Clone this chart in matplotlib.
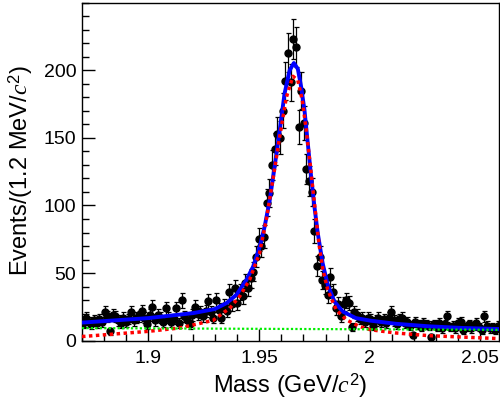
import numpy as np
import matplotlib
matplotlib.use("Agg")
import matplotlib.pyplot as plt
from matplotlib.ticker import MultipleLocator

plt.rcParams['font.family'] = ['Liberation Sans', 'DejaVu Sans']
plt.rcParams['mathtext.fontset'] = 'custom'
plt.rcParams['mathtext.it'] = 'Liberation Serif:italic'
plt.rcParams['mathtext.rm'] = 'Liberation Sans'

# ---- data: 1.2 MeV bins starting at 1.870 GeV ----
bin_start = 1.870
bin_width = 0.0012
counts = [
    13, 17, 14, 12, 15, 13, 16, 14, 21, 18,
    7, 19, 18, 15, 13, 17, 14, 16, 21, 15,
    17, 18, 22, 17, 12, 19, 25, 15, 19, 17,
    14, 24, 17, 14, 16, 24, 13, 30, 18, 15,
    12, 19, 25, 20, 21, 18, 22, 29, 21, 17,
    30, 23, 17, 26, 22, 36, 27, 39, 28, 36,
    33, 43, 39, 46, 51, 62, 75, 70, 77, 102,
    109, 130, 142, 153, 150, 170, 192, 213, 191, 223,
    217, 158, 185, 161, 127, 118, 110, 81, 55, 62,
    45, 41, 34, 47, 36, 24, 27, 18, 27, 30,
    28, 10, 21, 19, 16, 17, 14, 17, 16, 11,
    15, 17, 14, 16, 13, 17, 21, 15, 12, 16,
    17, 13, 14, 11, 4, 14, 12, 10, 13, 12,
    11, 3, 12, 10, 13, 9, 12, 18, 10, 11,
    9, 13, 14, 8, 10, 12, 9, 11, 13, 10,
    8, 18, 11, 9, 10, 8, 11,
]

# ---- fit curves (values at these masses) ----
total_mass = [1.870, 1.8714, 1.900, 1.9203, 1.930, 1.9353, 1.9398, 1.9443, 1.9473,
              1.9503, 1.9525, 1.9548, 1.957, 1.9593, 1.9615, 1.9638, 1.9657,
              1.9675, 1.969, 1.9705, 1.972, 1.9735, 1.975, 1.9765, 1.9787,
              1.981, 1.984, 1.9877, 1.9937, 2.0002, 2.0117, 2.0267, 2.0417, 2.0585]
total_fit = [13.4, 13.5, 16.7, 20.4, 23.4, 27.8, 34.0, 45.0, 54.8,
             69.6, 84.4, 104.0, 128.6, 155.7, 182.8, 200.0, 205.4,
             201.0, 187.7, 170.5, 145.9, 121.3, 99.0, 79.5, 57.3,
             41.3, 29.0, 21.6, 16.7, 14.8, 12.5, 10.6, 9.4, 8.6]

signal_mass = [1.870, 1.8714, 1.900, 1.9142, 1.9292, 1.9367, 1.9412, 1.9457, 1.9502,
               1.9532, 1.9562, 1.9593, 1.9623, 1.9653, 1.9675, 1.9695, 1.9713,
               1.9732, 1.975, 1.977, 1.9788, 1.981, 1.9848, 1.9893, 1.9952,
               2.0002, 2.0117, 2.0267, 2.0585]
signal_fit = [3.1, 3.2, 6.9, 9.4, 15.0, 24.0, 32.7, 45.0, 64.7,
              89.0, 118.8, 150.8, 180.0, 195.6, 192.6, 177.9, 155.7,
              128.6, 101.6, 72.0, 52.4, 37.6, 22.9, 15.5, 10.6,
              8.1, 5.7, 3.7, 1.5]

bkg_mass = [1.870, 2.0585]
bkg_fit = [9.3, 8.0]

x_ticks = [1.90, 1.95, 2.00, 2.05]
x_ticklabels = ['1.9', '1.95', '2', '2.05']
y_ticks = [0, 50, 100, 150, 200]

counts = np.array(counts, dtype=float)
centers = bin_start + bin_width * (np.arange(len(counts)) + 0.5)
errors = np.sqrt(counts)

fig = plt.figure(figsize=(5.0, 4.07), dpi=100)
ax = fig.add_axes([0.164, 0.163, 0.8346, 0.8303])

ax.errorbar(centers, counts, yerr=errors, fmt='o', color='black',
            markersize=5.0, elinewidth=0.9, capsize=1.8, capthick=0.9, zorder=2)
ax.plot(total_mass, total_fit, color='#0000ff', lw=2.8, zorder=3,
        solid_capstyle='round', solid_joinstyle='round')
ax.plot(signal_mass, signal_fit, color='#ff0000', lw=2.5, dashes=(1, 1), zorder=4)
ax.plot(bkg_mass, bkg_fit, color='#00ee00', lw=1.6, dashes=(1, 1), zorder=4)

ax.set_xlim(1.870, 2.0585)
ax.set_ylim(0, 250)
ax.set_xticks(x_ticks)
ax.set_xticklabels(x_ticklabels)
ax.set_yticks(y_ticks)
ax.xaxis.set_minor_locator(MultipleLocator(0.01))
ax.yaxis.set_minor_locator(MultipleLocator(10))
ax.tick_params(which='both', direction='in', top=False, right=False,
               labelsize=14, width=1.0, color='black')
ax.tick_params(axis='y', which='major', length=9.5, pad=4)
ax.tick_params(axis='y', which='minor', length=5)
ax.tick_params(axis='x', which='major', length=8.5, pad=7)
ax.tick_params(axis='x', which='minor', length=5)
for s in ax.spines.values():
    s.set_linewidth(1.0)

fig.text(0.581, 0.053, r'Mass (GeV/$c^{2}$)', ha='center', va='center', fontsize=17)
fig.text(0.042, 0.58, r'Events/(1.2 MeV/$c^{2}$)', ha='center', va='center',
         rotation=90, fontsize=17)

fig.savefig('out.png', dpi=100)
